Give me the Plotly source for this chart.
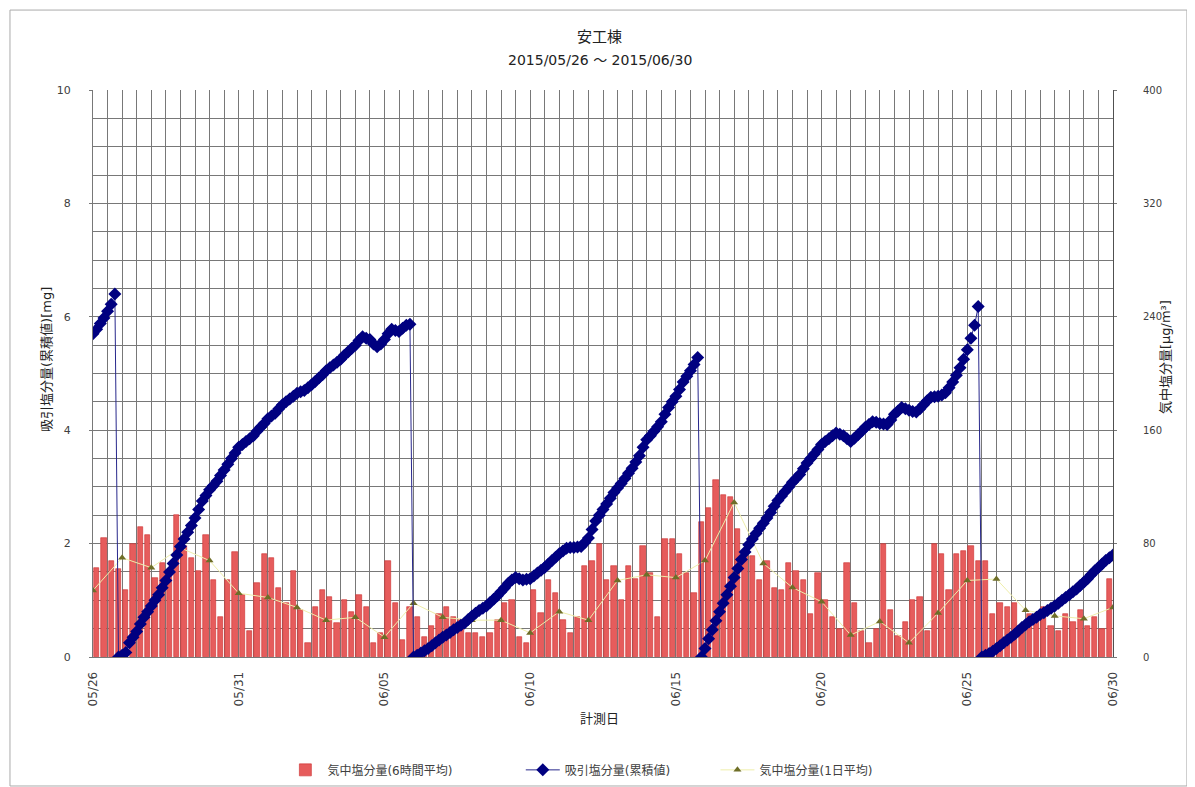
import plotly.graph_objects as go
import pandas as pd

# ---------------- data ----------------
chart_title = "安工棟"
chart_subtitle = "2015/05/26 ～ 2015/06/30"
x_title = "計測日"
y_left_title = "吸引塩分量(累積値)[mg]"
y_right_title = "気中塩分量[μg/m³]"
name_bar = "気中塩分量(6時間平均)"
name_cum = "吸引塩分量(累積値)"
name_daily = "気中塩分量(1日平均)"

start_date = "2015-05-26"
end_date = "2015-06-30"

# 6-hour average airborne salt [ug/m3], 4 per day from 05/26
salt_6h = [
    63, 84, 68, 62,   47, 80, 92, 86,   56, 66, 60, 100,  78, 70, 61, 86,
    54, 28, 54, 74,   44, 18, 52, 73,   70, 49, 38, 61,   33, 10, 35, 47,
    42, 24, 40, 32,   44, 35, 10, 17,   68, 38, 12, 35,   28, 14, 22, 30,
    35, 28, 26, 17,   17, 14, 17, 26,   38, 40, 14, 10,   47, 31, 54, 45,
    26, 17, 28, 64,   68, 80, 54, 64,   40, 64, 55, 78,   59, 28, 83, 83,
    73, 59, 45, 95,   105, 125, 114, 113, 90, 75, 71, 54, 68, 49, 47, 66,
    61, 54, 30, 59,   40, 28, 20, 66,   38, 18, 10, 20,   80, 33, 15, 25,
    40, 42, 18, 80,   73, 47, 73, 75,   78, 68, 68, 30,   38, 35, 38, 21,
    30, 28, 35, 22,   18, 30, 25, 33,   22, 28, 20, 55,
]

# daily average airborne salt [ug/m3], one per day start
salt_daily = [
    47, 70, 63, 77, 68, 45, 42, 35, 26, 28, 14, 38, 28, 26, 26, 17, 32, 26,
    54, 58, 56, 68, 109, 66, 49, 39, 15.5, 25, 10, 31, 54, 55, 33, 29, 27, 35,
]

# cumulative sucked salt [mg], every 3 hours from 05/26 00:00
cum_salt = [
    5.70, 5.78, 5.88, 5.98, 6.10, 6.22, 6.40, 0.00,
    0.03, 0.08, 0.25, 0.35, 0.45, 0.58, 0.70, 0.80,
    0.90, 1.00, 1.10, 1.22, 1.35, 1.50, 1.65, 1.80,
    1.95, 2.08, 2.20, 2.32, 2.45, 2.60, 2.75, 2.85,
    2.95, 3.02, 3.10, 3.20, 3.30, 3.40, 3.50, 3.60,
    3.70, 3.75, 3.80, 3.85, 3.90, 3.98, 4.05, 4.12,
    4.20, 4.25, 4.30, 4.38, 4.45, 4.50, 4.55, 4.60,
    4.65, 4.68, 4.70, 4.75, 4.80, 4.86, 4.92, 4.98,
    5.05, 5.10, 5.15, 5.20, 5.25, 5.32, 5.38, 5.44,
    5.50, 5.58, 5.65, 5.62, 5.60, 5.52, 5.47, 5.52,
    5.60, 5.70, 5.78, 5.76, 5.74, 5.80, 5.85, 5.87,
    0.00, 0.03, 0.07, 0.11, 0.15, 0.20, 0.25, 0.30,
    0.35, 0.39, 0.43, 0.48, 0.52, 0.56, 0.60, 0.66,
    0.72, 0.77, 0.82, 0.86, 0.90, 0.96, 1.02, 1.08,
    1.15, 1.22, 1.30, 1.36, 1.40, 1.38, 1.36, 1.37,
    1.38, 1.43, 1.48, 1.53, 1.58, 1.64, 1.70, 1.76,
    1.82, 1.87, 1.92, 1.93, 1.93, 1.94, 1.95, 2.02,
    2.10, 2.25, 2.40, 2.50, 2.60, 2.70, 2.80, 2.90,
    2.98, 3.06, 3.15, 3.24, 3.33, 3.44, 3.55, 3.70,
    3.83, 3.90, 3.98, 4.06, 4.15, 4.28, 4.40, 4.50,
    4.60, 4.72, 4.85, 4.95, 5.05, 5.16, 5.28, 0.00,
    0.15, 0.32, 0.48, 0.64, 0.80, 0.95, 1.10, 1.25,
    1.40, 1.56, 1.72, 1.85, 1.98, 2.08, 2.18, 2.27,
    2.36, 2.45, 2.55, 2.66, 2.76, 2.84, 2.92, 3.00,
    3.08, 3.15, 3.22, 3.32, 3.42, 3.50, 3.58, 3.66,
    3.75, 3.80, 3.85, 3.90, 3.95, 3.93, 3.90, 3.85,
    3.80, 3.86, 3.92, 3.98, 4.05, 4.10, 4.15, 4.14,
    4.12, 4.11, 4.10, 4.18, 4.28, 4.34, 4.40, 4.38,
    4.35, 4.33, 4.32, 4.38, 4.45, 4.52, 4.58, 4.59,
    4.60, 4.62, 4.66, 4.75, 4.85, 4.97, 5.10, 5.25,
    5.42, 5.62, 5.85, 6.18, 0.00, 0.03, 0.06, 0.10,
    0.15, 0.20, 0.25, 0.30, 0.35, 0.40, 0.46, 0.52,
    0.57, 0.62, 0.66, 0.70, 0.75, 0.78, 0.82, 0.86,
    0.90, 0.95, 1.00, 1.05, 1.10, 1.15, 1.20, 1.26,
    1.32, 1.38, 1.45, 1.52, 1.58, 1.64, 1.70, 1.75,
    1.80,
]

left_ticks = [0, 2, 4, 6, 8, 10]
right_ticks = [0, 80, 160, 240, 320, 400]

# ---------------- times ----------------
bar_times = pd.date_range(pd.Timestamp(start_date) + pd.Timedelta(hours=3),
                          periods=len(salt_6h), freq="6h")
daily_times = pd.date_range(start_date, periods=len(salt_daily), freq="D")
cum_times = pd.date_range(start_date, periods=len(cum_salt), freq="3h")

FONT = "DejaVu Sans, Noto Sans CJK JP, sans-serif"
GRID = "rgb(120,120,120)"
TXT = "#404040"

# page body has an 8px margin: figure is sized to fit the 1195x787 window
FIG_W, FIG_H = 1187, 779

fig = go.Figure()

fig.add_trace(go.Bar(
    x=bar_times, y=salt_6h, name=name_bar, yaxis="y", legend="legend",
    width=6 * 3600 * 1000 * 0.72,
    marker=dict(color="rgb(230,92,92)", line=dict(color="rgb(205,45,45)", width=0.6)),
))
fig.add_trace(go.Scatter(
    x=daily_times, y=salt_daily, name=name_daily, yaxis="y", legend="legend3",
    mode="lines+markers",
    line=dict(color="rgb(238,238,170)", width=1),
    marker=dict(symbol="triangle-up", size=7, color="rgb(110,110,40)"),
))
fig.add_trace(go.Scatter(
    x=cum_times, y=cum_salt, name=name_cum, yaxis="y2", legend="legend2",
    mode="lines+markers",
    line=dict(color="rgb(40,40,140)", width=1),
    marker=dict(symbol="diamond", size=10, color="#000080"),
))

leg_common = dict(orientation="h", xref="container", yref="container",
                  xanchor="left", y=0.022, yanchor="middle",
                  font=dict(size=12, color=TXT), itemwidth=34,
                  bgcolor="rgba(0,0,0,0)")

fig.update_layout(
    width=FIG_W, height=FIG_H,
    margin=dict(l=85, r=82, t=82, b=130, autoexpand=False),
    paper_bgcolor="white", plot_bgcolor="white",
    font=dict(family=FONT, size=11, color=TXT),
    showlegend=True,
    legend=dict(x=0.232, **leg_common),
    legend2=dict(x=0.432, **leg_common),
    legend3=dict(x=0.596, **leg_common),
    bargap=0,
    xaxis=dict(
        type="date", range=[start_date, end_date],
        tick0=start_date, dtick=5 * 86400000, tickformat="%m/%d",
        tickangle=-90, tickfont=dict(size=12, color=TXT), ticklabelstandoff=9,
        showgrid=True, gridcolor=GRID, gridwidth=1,
        minor=dict(dtick=43200000, tick0=start_date, showgrid=True,
                   gridcolor=GRID, gridwidth=1),
        showline=True, linecolor=GRID, zeroline=False, ticks="",
    ),
    yaxis=dict(
        side="right", range=[0, 400], tickvals=right_ticks,
        tickfont=dict(size=10, color=TXT),
        showgrid=True, gridcolor=GRID, gridwidth=1,
        minor=dict(dtick=20, showgrid=True, gridcolor=GRID, gridwidth=1),
        showline=True, linecolor="rgb(80,80,80)", zeroline=False,
        ticks="outside", ticklen=3, tickcolor=GRID, ticklabelstandoff=24,
    ),
    yaxis2=dict(
        overlaying="y", side="left", range=[0, 10], tickvals=left_ticks,
        tickfont=dict(size=11, color=TXT), showgrid=False, zeroline=False,
        showline=True, linecolor=GRID, ticks="outside", ticklen=3, tickcolor=GRID,
        ticklabelstandoff=16,
    ),
    annotations=[
        dict(text=chart_title, x=0.497, y=1.0935, xref="paper", yref="paper",
             xanchor="center", yanchor="middle",
             showarrow=False, font=dict(size=15, color="#222")),
        dict(text=chart_subtitle, x=0.497, y=1.053, xref="paper", yref="paper",
             xanchor="center", yanchor="middle",
             showarrow=False, font=dict(size=14, color="#222")),
        dict(text=x_title, x=0.497, y=-0.109, xref="paper", yref="paper",
             xanchor="center", yanchor="middle",
             showarrow=False, font=dict(size=13, color="#222")),
        dict(text=y_left_title, x=-0.045, y=0.524, xref="paper", yref="paper",
             xanchor="center", yanchor="middle",
             textangle=-90, showarrow=False, font=dict(size=13, color="#222")),
        dict(text=y_right_title, x=1.051, y=0.529, xref="paper", yref="paper",
             xanchor="center", yanchor="middle",
             textangle=-90, showarrow=False, font=dict(size=13, color="#222")),
    ],
    shapes=[
        dict(type="rect", xref="paper", yref="paper",
             x0=-0.0814, x1=1.0725, y0=-0.2275, y1=1.141,
             line=dict(color="rgb(170,170,170)", width=1)),
    ],
)

fig.write_html("out.html")
